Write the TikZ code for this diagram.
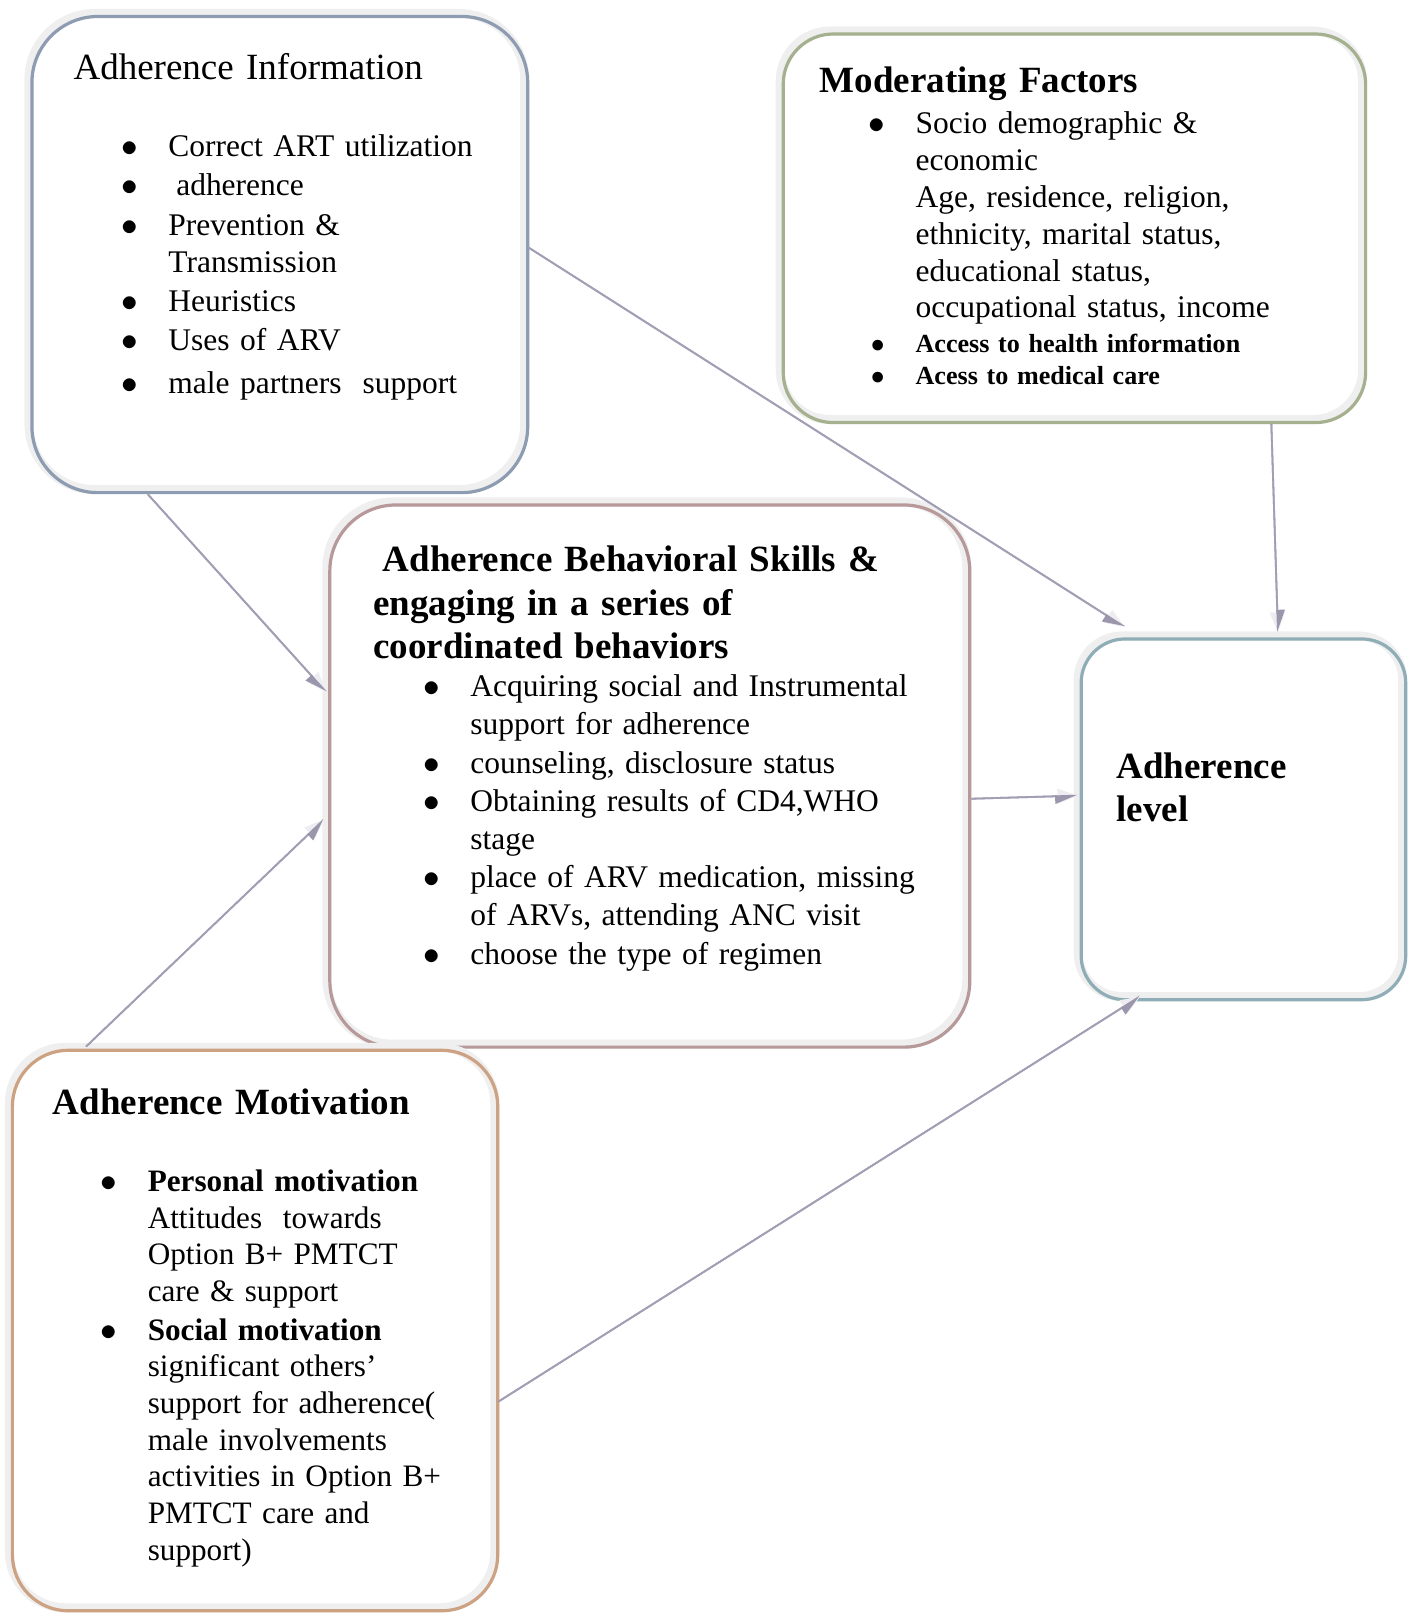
\documentclass[tikz,border=0pt]{standalone}
\usepackage{graphicx}
\usepackage{fontspec}
\setmainfont{Liberation Serif}
\usetikzlibrary{arrows.meta}
\definecolor{infoc}{HTML}{8E9CB2}
\definecolor{moderc}{HTML}{A4B08E}
\definecolor{behavc}{HTML}{B8999A}
\definecolor{levelc}{HTML}{8FADB6}
\definecolor{motivc}{HTML}{CCA283}
\definecolor{bandc}{HTML}{EFEFEF}
\definecolor{arrc}{HTML}{A29FB5}
\definecolor{tiplight}{HTML}{EDEDF1}
\definecolor{tipdark}{HTML}{9B96AC}
\newcommand{\bul}{\leavevmode\llap{\scalebox{1.15}{$\bullet$}\hspace{15.4pt}}}
\newcommand{\linkarrow}[3]{\draw[arr] #1 -- #2; \draw[arrhalf=#3] #1 -- #2;}

\begin{document}
\begin{tikzpicture}[x=0.51535pt, y=-0.51535pt,
  box/.style={draw=#1, line width=1.6pt, inner sep=0pt,
    preaction={draw=bandc, line width=4.5pt, transform canvas={shift={(-1.5pt,1.5pt)}}}},
  title/.style={anchor=base west, inner sep=0pt, text width=300pt, align=left,
    font=\fontsize{18.5}{21.6}\selectfont\bfseries},
  body/.style={anchor=base west, inner sep=0pt, text width=#1, align=left,
    font=\fontsize{15.75}{19.1}\selectfont},
  arr/.style={draw=arrc, line width=0.9pt, -{Triangle[length=10pt,width=7.5pt,color=tiplight]}},
  arrhalf/.style={draw=arrc, line width=0.9pt, -{Triangle[length=10pt,width=7.5pt,#1,color=tipdark]}}]
\useasboundingbox (0,0) rectangle (1369,1568);

\node[box=infoc, rounded corners=33pt, minimum width=247.9pt, minimum height=238.1pt] (info) at (271.5,247) {};
\node[box=moderc, rounded corners=25pt, minimum width=291.2pt, minimum height=194.3pt] (moder) at (1042.5,221.5) {};
\node[box=behavc, rounded corners=33pt, minimum width=320pt, minimum height=271.1pt] (behav) at (630.5,753) {};
\node[box=levelc, rounded corners=22pt, minimum width=162.3pt, minimum height=180.4pt] (level) at (1206.5,795) {};
\node[box=motivc, rounded corners=28pt, minimum width=242.7pt, minimum height=280.3pt] (motiv) at (247.5,1291) {};

\node[title, font=\fontsize{18.5}{21.6}\selectfont] (infotitle) at (71,77) {Adherence Information};
\node[body=300pt, font=\fontsize{15.75}{19.6}\selectfont] (infolist) at (163,152) {\bul Correct ART utilization\\
  \bul\hspace*{0.25em}adherence\\
  \bul Prevention \&\\[-1pt]
  Transmission\\
  \bul Heuristics\\
  \bul Uses of ARV\\[2pt]
  \bul male partners\ \ support};

\node[title] (modertitle) at (795,90) {Moderating Factors};
\node[body=300pt, font=\fontsize{15.75}{18.4}\selectfont] (moderlist) at (888,130) {\bul Socio demographic \&\\
  economic\\
  Age, residence, religion,\\
  ethnicity, marital status,\\
  educational status,\\
  occupational status, income};
\node[body=300pt, font=\fontsize{13.05}{16}\selectfont\bfseries] (moderaccess) at (888,342) {\bul Access to health information\\
  \bul Acess to medical care};

\node[title] (behavtitle) at (362,555) {\hspace*{0.25em}Adherence Behavioral Skills \&\\
  engaging in a series of\\
  coordinated behaviors};
\node[body=330pt] (behavlist) at (456,676) {\bul Acquiring social and Instrumental\\
  support for adherence\\
  \bul counseling, disclosure status\\
  \bul Obtaining results of CD4,WHO\\
  stage\\
  \bul place of ARV medication, missing\\
  of ARVs, attending ANC visit\\
  \bul choose the type of regimen};

\node[title, text width=150pt] (leveltext) at (1083,755) {Adherence\\ level};

\node[title] (motivtitle) at (51,1081) {Adherence Motivation};
\node[body=180pt, font=\fontsize{15.6}{18.35}\selectfont] (motivlist) at (143,1156) {\bul\textbf{Personal motivation}\\
  Attitudes\ \ towards\\
  Option B+ PMTCT\\
  care \& support\\[1pt]
  \bul\textbf{Social motivation}\\
  significant others'\\
  support for adherence(\\
  male involvements\\
  activities in Option B+\\
  PMTCT care and\\
  support)};

\linkarrow{([shift={(-1,-7)}]info.east)}{([shift={(44,-10)}]level.north west)}{right}
\linkarrow{([shift={(114,0)}]info.south west)}{([shift={(-2,183)}]behav.north west)}{right}
\linkarrow{([shift={(73,-2)}]motiv.north west)}{([shift={(-4,42)}]behav.west)}{right}
\linkarrow{([shift={(-1,69)}]motiv.east)}{([shift={(59,-5)}]level.south west)}{right}
\linkarrow{([shift={(-93,0)}]moder.south east)}{([shift={(33.5,-5)}]level.north)}{left}
\linkarrow{([shift={(0,22)}]behav.east)}{([shift={(-2,-23)}]level.west)}{right}
\end{tikzpicture}
\end{document}
